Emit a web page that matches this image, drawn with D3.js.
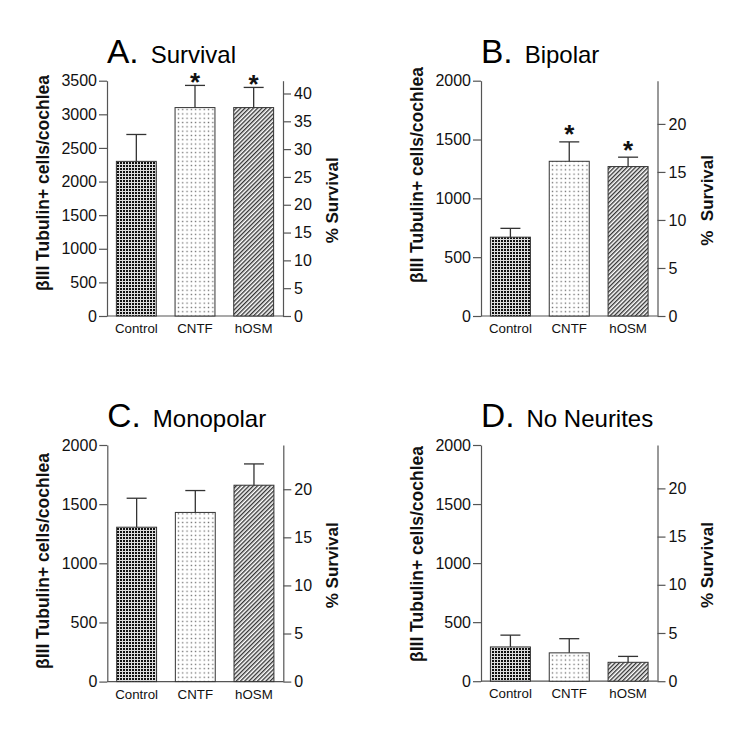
<!DOCTYPE html>
<html>
<head>
<meta charset="utf-8">
<script src="https://cdn.jsdelivr.net/npm/d3@7"></script>
<style>
  html, body { margin: 0; padding: 0; background: #fff; }
  svg { display: block; font-family: "Liberation Sans", Arial, Helvetica, sans-serif; }
</style>
</head>
<body>
<svg id="chart" width="750" height="738"></svg>
<script>
// ---------------- data ----------------
const categories = ["Control", "CNTF", "hOSM"];

const survivalMean = [2300, 3100, 3100];
const survivalSEM  = [400, 330, 300];
const survivalSig  = [false, true, true];

const bipolarMean = [670, 1315, 1270];
const bipolarSEM  = [75, 165, 80];
const bipolarSig  = [false, true, true];

const monopolarMean = [1305, 1430, 1660];
const monopolarSEM  = [245, 185, 180];
const monopolarSig  = [false, false, false];

const noNeuritesMean = [290, 240, 160];
const noNeuritesSEM  = [100, 120, 50];
const noNeuritesSig  = [false, false, false];

const countTicksA = [0, 500, 1000, 1500, 2000, 2500, 3000, 3500];
const countTicksBCD = [0, 500, 1000, 1500, 2000];
const pctTicksA = [0, 5, 10, 15, 20, 25, 30, 35, 40];
const pctTicksBCD = [0, 5, 10, 15, 20];

const titles = [["A.", "Survival"], ["B.", "Bipolar"], ["C.", "Monopolar"], ["D.", "No Neurites"]];
const leftLabel = "βIII Tubulin+ cells/cochlea";
const rightLabels = ["% Survival", "%\u00A0\u00A0Survival", "% Survival", "% Survival"];

// ---------------- layout ----------------
const panels = [
  { title: titles[0], mean: survivalMean, sem: survivalSEM, sig: survivalSig,
    leftMax: 3500, leftTicks: countTicksA, rightMax: 42.3, rightTicks: pctTicksA,
    x0: 107, x1: 283, y0: 80.7, y1: 316, starGap: 9, leftLabelY: 183, rightLabel: rightLabels[0] },
  { title: titles[1], mean: bipolarMean, sem: bipolarSEM, sig: bipolarSig,
    leftMax: 2000, leftTicks: countTicksBCD, rightMax: 24.5, rightTicks: pctTicksBCD,
    x0: 481, x1: 657.5, y0: 80.7, y1: 316, starGap: 13.5, leftLabelY: 175, rightLabel: rightLabels[1] },
  { title: titles[2], mean: monopolarMean, sem: monopolarSEM, sig: monopolarSig,
    leftMax: 2000, leftTicks: countTicksBCD, rightMax: 24.6, rightTicks: pctTicksBCD,
    x0: 107.3, x1: 283.3, y0: 445, y1: 681.6, starGap: 13, leftLabelY: 561, rightLabel: rightLabels[2] },
  { title: titles[3], mean: noNeuritesMean, sem: noNeuritesSEM, sig: noNeuritesSig,
    leftMax: 2000, leftTicks: countTicksBCD, rightMax: 24.5, rightTicks: pctTicksBCD,
    x0: 481, x1: 657.5, y0: 445, y1: 681.2, starGap: 13, leftLabelY: 554, rightLabel: rightLabels[3] }
];

const svg = d3.select("#chart");
const axisColor = "#555";
const textColor = "#111";

// ---------------- patterns ----------------
const defs = svg.append("defs");
const checker = defs.append("pattern").attr("id", "pat-checker")
  .attr("patternUnits", "userSpaceOnUse").attr("width", 3).attr("height", 3);
checker.append("rect").attr("width", 3).attr("height", 3).attr("fill", "#ddd");
checker.append("rect").attr("width", 2).attr("height", 2).attr("fill", "#111");

const dots = defs.append("pattern").attr("id", "pat-dots")
  .attr("patternUnits", "userSpaceOnUse").attr("width", 4.3).attr("height", 4.3);
dots.append("rect").attr("width", 4.3).attr("height", 4.3).attr("fill", "#fff");
dots.append("rect").attr("x", 1.5).attr("y", 1.5).attr("width", 1.3).attr("height", 1.3).attr("fill", "#666");

const hatch = defs.append("pattern").attr("id", "pat-hatch")
  .attr("patternUnits", "userSpaceOnUse").attr("width", 3).attr("height", 3)
  .attr("patternTransform", "rotate(45)");
hatch.append("rect").attr("width", 3).attr("height", 3).attr("fill", "#fff");
hatch.append("line").attr("x1", 0.7).attr("y1", 0).attr("x2", 0.7).attr("y2", 3)
  .attr("stroke", "#2a2a2a").attr("stroke-width", 1.3);

const fills = ["url(#pat-checker)", "url(#pat-dots)", "url(#pat-hatch)"];
const fmt = d3.format("d");

// ---------------- draw panels ----------------
panels.forEach(p => {
  const g = svg.append("g");
  const x = d3.scaleBand().domain(categories).range([p.x0, p.x1])
    .paddingInner(0.32).paddingOuter(0.16);
  const y = d3.scaleLinear().domain([0, p.leftMax]).range([p.y1, p.y0]);
  const yR = d3.scaleLinear().domain([0, p.rightMax]).range([p.y1, p.y0]);

  // left axis
  const la = g.append("g").attr("transform", `translate(${p.x0},0)`)
    .call(d3.axisLeft(y).tickValues(p.leftTicks).tickFormat(fmt)
      .tickSize(8).tickPadding(2).tickSizeOuter(0));
  // right axis
  const ra = g.append("g").attr("transform", `translate(${p.x1},0)`)
    .call(d3.axisRight(yR).tickValues(p.rightTicks).tickFormat(fmt)
      .tickSize(8).tickPadding(3).tickSizeOuter(0));
  [la, ra].forEach(a => {
    a.attr("font-size", null).attr("font-family", null);
    a.select(".domain").attr("stroke", axisColor).attr("stroke-width", 1.2);
    a.selectAll(".tick line").attr("stroke", axisColor).attr("stroke-width", 1.2);
    a.selectAll(".tick text").attr("fill", textColor)
      .style("font-size", "16px").style("font-family", "'Liberation Sans', Arial, sans-serif");
  });
  // baseline
  g.append("line").attr("x1", p.x0).attr("x2", p.x1).attr("y1", y(0)).attr("y2", y(0))
    .attr("stroke", axisColor).attr("stroke-width", 1.2);

  // bars
  g.selectAll("rect.bar").data(categories).join("rect").attr("class", "bar")
    .attr("x", d => x(d)).attr("width", x.bandwidth())
    .attr("y", (d, i) => y(p.mean[i])).attr("height", (d, i) => y(0) - y(p.mean[i]))
    .attr("fill", (d, i) => fills[i]).attr("stroke", "#333").attr("stroke-width", 1);

  // error bars
  categories.forEach((c, i) => {
    const cx = x(c) + x.bandwidth() / 2;
    const top = y(p.mean[i] + p.sem[i]);
    g.append("line").attr("x1", cx).attr("x2", cx).attr("y1", y(p.mean[i])).attr("y2", top)
      .attr("stroke", "#333").attr("stroke-width", 1.3);
    g.append("line").attr("x1", cx - 10).attr("x2", cx + 10).attr("y1", top).attr("y2", top)
      .attr("stroke", "#333").attr("stroke-width", 1.3);
    if (p.sig[i]) {
      g.append("text").attr("x", cx).attr("y", top - p.starGap + 15)
        .attr("text-anchor", "middle").attr("font-weight", "bold")
        .style("font-size", "26px").attr("fill", textColor).text("*");
    }
  });

  // category labels
  g.selectAll("text.cat").data(categories).join("text").attr("class", "cat")
    .attr("x", d => x(d) + x.bandwidth() / 2).attr("y", p.y1 + 17)
    .attr("text-anchor", "middle").style("font-size", "13.3px").attr("fill", textColor)
    .text(d => d);

  // title
  const t = g.append("text").attr("x", p.x0).attr("y", p.y0 - 18).attr("fill", "#000");
  t.append("tspan").style("font-size", "33.5px").text(p.title[0]);
  t.append("tspan").attr("dx", 12).style("font-size", "24px").text(p.title[1]);

  // left label
  g.append("text")
    .attr("transform", `translate(${p.x0 - 58},${p.leftLabelY}) rotate(-90)`)
    .attr("text-anchor", "middle").attr("font-weight", "bold")
    .style("font-size", "17.5px").attr("fill", textColor).text(leftLabel);

  // right label
  g.append("text")
    .attr("transform", `translate(${p.x1 + 55},${(p.y0 + p.y1) / 2 + 2}) rotate(-90)`)
    .attr("text-anchor", "middle").attr("font-weight", "bold")
    .style("font-size", "17px").attr("fill", textColor).text(p.rightLabel);
});
</script>
</body>
</html>
